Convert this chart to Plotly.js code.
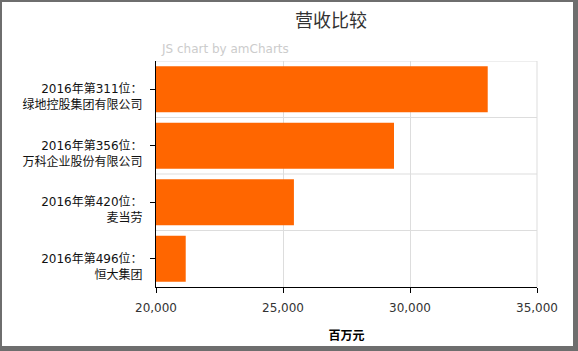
<!DOCTYPE html>
<html>
<head>
<meta charset="utf-8">
<script src="https://cdn.plot.ly/plotly-3.0.1.min.js"></script>
<style>
  html, body { margin: 0; padding: 0; background: #ffffff; }
  #frame { position: absolute; left: 0; top: 0; width: 578px; height: 351px; box-sizing: border-box;
           border-style: solid; border-color: #6e6e6e; border-width: 2px 5px 5px 2px; background: #fff; }
  #chart { width: 571px; height: 344px; }
</style>
</head>
<body>
<div id="frame"><div id="chart"></div></div>
<script>
// Data (top to bottom as shown)
var companies = [
  "2016年第311位：<br>绿地控股集团有限公司",
  "2016年第356位：<br>万科企业股份有限公司",
  "2016年第420位：<br>麦当劳",
  "2016年第496位：<br>恒大集团"
];
var revenue = [33060, 29370, 25430, 21170];
var xTicks = [20000, 25000, 30000, 35000];
var xTickText = ["20,000", "25,000", "30,000", "35,000"];

var font = "DejaVu Sans, Verdana, Noto Sans CJK SC, sans-serif";

// amCharts puts the first label line on the tick: pad with an empty leading line
var yLabels = companies.map(function (c) { return "\u00a0<br>" + c; });

var trace = {
  type: "bar",
  orientation: "h",
  x: revenue,
  y: yLabels,
  marker: { color: "#ff6600" },
  hoverinfo: "x+y"
};

// grid lines between category bands
var shapes = [];
for (var i = 0; i < companies.length; i++) {
  shapes.push({ type: "line", xref: "paper", x0: 0, x1: 1, yref: "y", y0: i - 0.5, y1: i - 0.5,
                line: { color: "#dddddd", width: 1 }, layer: "below" });
}
shapes.push({ type: "line", xref: "paper", x0: 1, x1: 1, yref: "paper", y0: 0, y1: 1,
              line: { color: "#dddddd", width: 1 }, layer: "below" });

var layout = {
  width: 571, height: 344,
  margin: { l: 154, r: 36, t: 59, b: 59 },
  paper_bgcolor: "#ffffff",
  plot_bgcolor: "#ffffff",
  font: { family: font, size: 12, color: "#333333" },
  title: { text: "营收比较", font: { family: font, size: 18, color: "#333333" },
           x: 0.576, xanchor: "center", y: 0.947, yanchor: "middle", xref: "container", yref: "container" },
  bargap: 0.19,
  showlegend: false,
  xaxis: {
    range: [20000, 35000],
    tickvals: xTicks, ticktext: xTickText,
    showgrid: true, gridcolor: "#dddddd", gridwidth: 1,
    showline: true, linecolor: "#000000", linewidth: 1,
    ticks: "outside", ticklen: 5, tickcolor: "#000000",
    ticklabelstandoff: 5,
    tickfont: { family: font, size: 12, color: "#333333" },
    zeroline: false,
    title: { text: "<b>百万元</b>", font: { family: font, size: 12, color: "#000000" }, standoff: 17 }
  },
  yaxis: {
    type: "category",
    range: [3.5, -0.5],
    showgrid: false,
    showline: true, linecolor: "#000000", linewidth: 1,
    ticks: "outside", ticklen: 5, tickcolor: "#000000",
    ticklabelstandoff: 5,
    tickfont: { family: font, size: 12, color: "#111111" },
    zeroline: false
  },
  shapes: shapes,
  annotations: [{
    text: "JS chart by amCharts", xref: "paper", yref: "paper",
    x: 0.008, y: 1.055, xanchor: "left", yanchor: "middle", showarrow: false,
    font: { family: font, size: 12, color: "#cccccc" }
  }]
};

Plotly.newPlot("chart", [trace], layout, { displayModeBar: false, staticPlot: true });
</script>
</body>
</html>
